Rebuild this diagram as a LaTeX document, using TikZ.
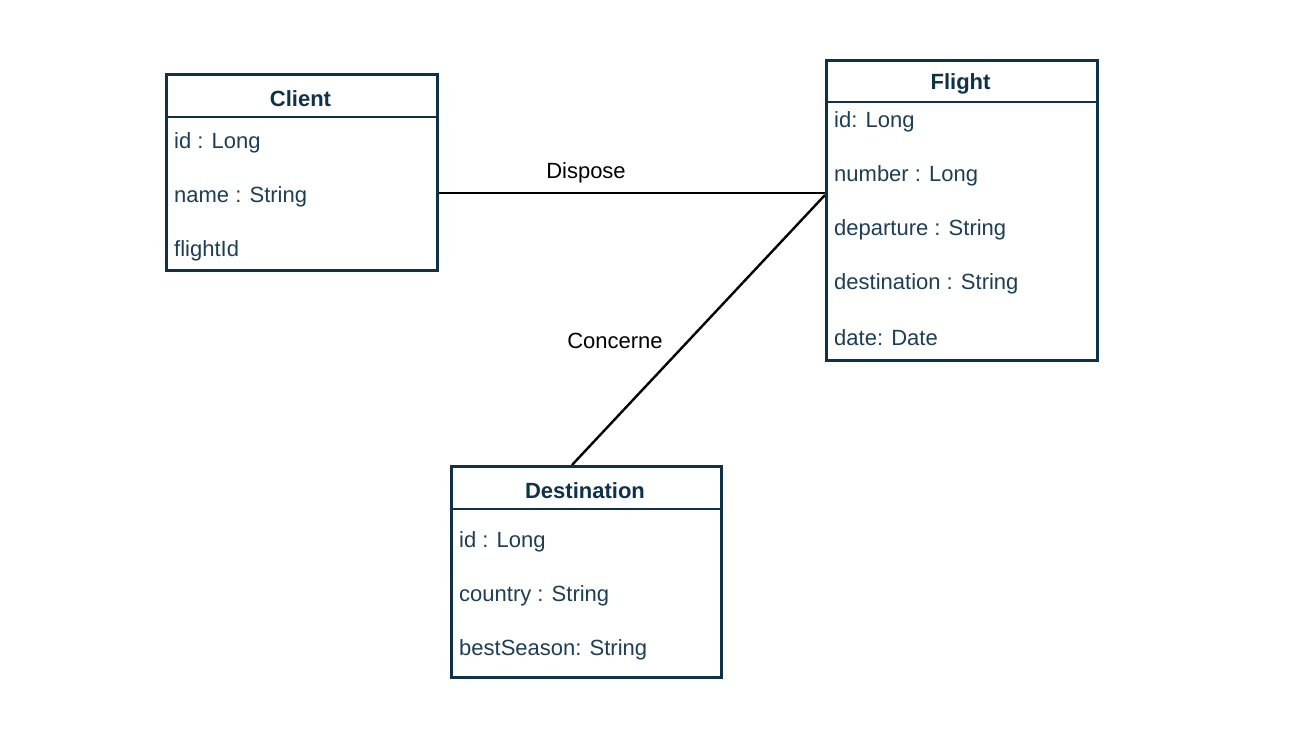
\documentclass[tikz,border=0pt]{standalone}
\usepackage{fontspec}
\setmainfont{Liberation Sans}
\definecolor{boxline}{HTML}{0F3249}
\definecolor{attrtext}{HTML}{1E3E56}
\begin{document}
\begin{tikzpicture}[x=1pt,y=-1pt,
  classbox/.style={draw=boxline,line width=2.8pt,fill=white,anchor=north west,inner sep=0pt},
  divider/.style={draw=boxline,line width=2.8pt},
  title/.style={font=\fontsize{22}{26}\selectfont\bfseries,text=boxline,anchor=center,inner sep=0pt},
  attr/.style={font=\fontsize{22}{26}\selectfont,text=attrtext,anchor=west,inner sep=0pt},
  assoc/.style={draw=black,line width=2.4pt},
  assoclabel/.style={font=\fontsize{22}{26}\selectfont,text=black,inner sep=0pt,anchor=center}]
\useasboundingbox (0,0) rectangle (1290,735);

% connectors first (behind boxes)
\coordinate (cport) at (436,193);
\coordinate (fport) at (825,193);
\coordinate (fport2) at (825,195);
\coordinate (dport) at (572,465);
\draw[assoc] (cport) -- (fport);
\draw[assoc] (fport2) -- (dport);
\node[assoclabel] (lbldispose) at (586,173) {Dispose};
\node[assoclabel] (lblconcerne) at (615,341) {Concerne};

% Client
\node[classbox,minimum width=271pt,minimum height=196pt] (client) at (165,73) {};
\draw[divider] (165,117) -- (436,117);
\node[title] (clienttitle) at (300.5,99) {Client};
\node[attr] (c1) at (174,143) {id : Long};
\node[attr] (c2) at (174,197) {name : String};
\node[attr] (c3) at (174,251) {flightId};

% Flight
\node[classbox,minimum width=271pt,minimum height=300pt] (flight) at (825,59) {};
\draw[divider] (825,102) -- (1096,102);
\node[title] (flighttitle) at (960.5,84) {Flight};
\node[attr] (f1) at (834,122) {id: Long};
\node[attr] (f2) at (834,176) {number : Long};
\node[attr] (f3) at (834,230) {departure : String};
\node[attr] (f4) at (834,284) {destination : String};
\node[attr] (f5) at (834,338) {date: Date};

% Destination
\node[classbox,minimum width=270pt,minimum height=211pt] (dest) at (450,465) {};
\draw[divider] (450,509) -- (720,509);
\node[title] (desttitle) at (585,491) {Destination};
\node[attr] (d1) at (459,542) {id : Long};
\node[attr] (d2) at (459,596) {country : String};
\node[attr] (d3) at (459,650) {bestSeason: String};
\end{tikzpicture}
\end{document}
